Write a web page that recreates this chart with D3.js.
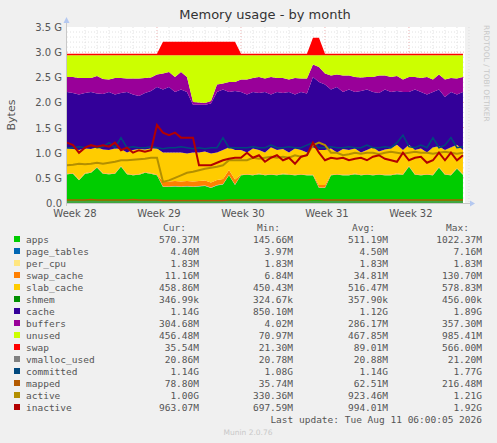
<!DOCTYPE html>
<html>
<head>
<meta charset="utf-8">
<script src="https://cdn.jsdelivr.net/npm/d3@7"></script>
<style>
  body { margin: 0; background: #f0f0f0; }
  svg { display: block; }
</style>
</head>
<body>
<svg id="chart" width="497" height="443"></svg>
<script>
// samples every half day, values in G
const apps = [0.57,0.58,0.45,0.58,0.6,0.70,0.58,0.57,0.58,0.72,0.57,0.55,0.56,0.6,0.58,
  0.55,0.32,0.32,0.33,0.32,0.33,0.32,0.33,0.34,0.30,0.35,0.37,0.55,0.36,
  0.55,0.56,0.55,0.57,0.55,0.56,0.55,0.57,0.56,0.55,0.56,0.55,0.55,0.30,
  0.30,0.55,0.56,0.55,0.55,0.57,0.55,0.56,0.55,0.56,0.55,0.55,0.57,0.56,
  0.72,0.56,0.55,0.56,0.55,0.70,0.56,0.55,0.68,0.56];
const pageTables = [0.004,0.004,0.004,0.004,0.004,0.004,0.004,0.004,0.004,0.004,0.004,0.004,0.004,0.004,0.004,
  0.004,0.004,0.004,0.004,0.004,0.004,0.004,0.004,0.004,0.004,0.004,0.004,0.004,0.004,
  0.004,0.004,0.004,0.004,0.004,0.004,0.004,0.004,0.004,0.004,0.004,0.004,0.004,0.004,
  0.004,0.004,0.004,0.004,0.004,0.004,0.004,0.004,0.004,0.004,0.004,0.004,0.004,0.004,
  0.004,0.004,0.004,0.004,0.004,0.004,0.004,0.004,0.004,0.004];
const perCpu = [0.002,0.002,0.002,0.002,0.002,0.002,0.002,0.002,0.002,0.002,0.002,0.002,0.002,0.002,0.002,
  0.002,0.002,0.002,0.002,0.002,0.002,0.002,0.002,0.002,0.002,0.002,0.002,0.002,0.002,
  0.002,0.002,0.002,0.002,0.002,0.002,0.002,0.002,0.002,0.002,0.002,0.002,0.002,0.002,
  0.002,0.002,0.002,0.002,0.002,0.002,0.002,0.002,0.002,0.002,0.002,0.002,0.002,0.002,
  0.002,0.002,0.002,0.002,0.002,0.002,0.002,0.002,0.002,0.002];
const swapCache = [0.01,0.01,0.01,0.01,0.01,0.01,0.01,0.01,0.01,0.01,0.01,0.01,0.01,0.01,0.01,
  0.01,0.10,0.10,0.10,0.10,0.10,0.10,0.10,0.10,0.10,0.10,0.10,0.10,0.10,
  0.01,0.01,0.01,0.01,0.01,0.01,0.01,0.01,0.01,0.01,0.01,0.01,0.01,0.05,
  0.05,0.01,0.01,0.01,0.01,0.01,0.01,0.01,0.01,0.01,0.01,0.01,0.01,0.01,
  0.01,0.01,0.01,0.01,0.01,0.01,0.01,0.01,0.01,0.01];
const slabCache = [0.50,0.48,0.59,0.49,0.46,0.39,0.47,0.47,0.49,0.34,0.42,0.49,0.50,0.45,0.49,
  0.52,0.58,0.58,0.57,0.58,0.55,0.58,0.57,0.58,0.58,0.55,0.58,0.45,0.59,
  0.49,0.43,0.52,0.47,0.44,0.53,0.49,0.49,0.43,0.52,0.48,0.44,0.54,0.70,
  0.70,0.52,0.43,0.51,0.49,0.50,0.44,0.48,0.54,0.45,0.50,0.52,0.57,0.48,
  0.42,0.48,0.52,0.43,0.54,0.41,0.48,0.54,0.46,0.48];
const shmem = [0.0003,0.0003,0.0003,0.0003,0.0003,0.0003,0.0003,0.0003,0.0003,0.0003,0.0003,0.0003,0.0003,0.0003,0.0003,
  0.0003,0.0003,0.0003,0.0003,0.0003,0.0003,0.0003,0.0003,0.0003,0.0003,0.0003,0.0003,0.0003,0.0003,
  0.0003,0.0003,0.0003,0.0003,0.0003,0.0003,0.0003,0.0003,0.0003,0.0003,0.0003,0.0003,0.0003,0.0003,
  0.0003,0.0003,0.0003,0.0003,0.0003,0.0003,0.0003,0.0003,0.0003,0.0003,0.0003,0.0003,0.0003,0.0003,
  0.0003,0.0003,0.0003,0.0003,0.0003,0.0003,0.0003,0.0003,0.0003,0.0003];
const cache = [1.12,1.11,1.10,1.10,1.13,1.07,1.10,1.15,1.07,1.11,1.20,1.10,1.05,1.12,1.14,
  1.22,1.25,1.30,1.20,1.25,1.22,0.95,0.95,0.93,0.99,1.20,1.20,1.10,1.17,
  1.15,1.15,1.12,1.13,1.20,1.05,1.15,1.11,1.20,1.07,1.15,1.17,1.40,1.35,
  1.30,1.17,1.30,1.13,1.20,1.12,1.22,1.20,1.10,1.16,1.19,1.12,1.07,1.15,
  1.05,1.20,1.12,1.15,1.10,1.13,1.05,1.10,1.00,1.15];
const buffers = [0.30,0.32,0.33,0.30,0.28,0.35,0.30,0.25,0.33,0.30,0.27,0.32,0.35,0.30,0.27,
  0.25,0.32,0.30,0.30,0.35,0.30,0.05,0.04,0.03,0.05,0.15,0.12,0.20,0.18,
  0.25,0.30,0.28,0.32,0.27,0.35,0.28,0.30,0.25,0.33,0.27,0.30,0.25,0.30,
  0.22,0.28,0.25,0.33,0.28,0.30,0.27,0.25,0.30,0.35,0.28,0.30,0.30,0.25,
  0.30,0.25,0.28,0.35,0.25,0.30,0.35,0.28,0.32,0.30];
const unused = [0.43,0.43,0.45,0.45,0.45,0.41,0.47,0.48,0.45,0.45,0.46,0.46,0.46,0.45,0.44,
  0.38,0.36,0.33,0.43,0.33,0.43,0.93,0.94,0.95,0.91,0.58,0.56,0.53,0.53,
  0.48,0.48,0.45,0.43,0.46,0.43,0.45,0.45,0.48,0.45,0.46,0.46,0.18,0.23,
  0.36,0.40,0.38,0.40,0.40,0.43,0.44,0.43,0.43,0.40,0.40,0.43,0.41,0.48,
  0.43,0.43,0.45,0.43,0.48,0.38,0.48,0.45,0.46,0.43];
const swap = [0.03,0.03,0.03,0.03,0.03,0.03,0.03,0.03,0.03,0.03,0.03,0.03,0.03,0.03,0.03,
  0.03,0.27,0.27,0.27,0.27,0.27,0.27,0.27,0.27,0.27,0.27,0.27,0.27,0.27,
  0.03,0.03,0.03,0.03,0.03,0.03,0.03,0.03,0.03,0.03,0.03,0.03,0.35,0.35,
  0.03,0.03,0.03,0.03,0.03,0.03,0.03,0.03,0.03,0.03,0.03,0.03,0.03,0.03,
  0.03,0.03,0.03,0.03,0.03,0.03,0.03,0.03,0.03,0.03];
const vmallocUsed = [0.02,0.02,0.02,0.02,0.02,0.02,0.02,0.02,0.02,0.02,0.02,0.02,0.02,0.02,0.02,
  0.02,0.02,0.02,0.02,0.02,0.02,0.02,0.02,0.02,0.02,0.02,0.02,0.02,0.02,
  0.02,0.02,0.02,0.02,0.02,0.02,0.02,0.02,0.02,0.02,0.02,0.02,0.02,0.02,
  0.02,0.02,0.02,0.02,0.02,0.02,0.02,0.02,0.02,0.02,0.02,0.02,0.02,0.02,
  0.02,0.02,0.02,0.02,0.02,0.02,0.02,0.02,0.02,0.02];
const committed = [1.1,1.1,1.12,1.1,1.15,1.1,1.12,1.2,1.1,1.3,1.1,1.12,1.1,1.1,1.12,
  1.1,1.08,1.1,1.1,1.12,1.1,1.08,1.1,1.08,1.1,1.1,1.3,1.1,1.1,
  1.1,1.1,1.12,1.1,1.1,1.15,1.1,1.1,1.12,1.1,1.1,1.15,1.2,1.1,
  1.1,1.12,1.1,1.1,1.12,1.1,1.1,1.15,1.1,1.1,1.12,1.1,1.2,1.35,
  1.12,1.1,1.15,1.1,1.3,1.1,1.15,1.3,1.1,1.12];
const mapped = [0.06,0.06,0.06,0.06,0.07,0.06,0.06,0.06,0.06,0.06,0.06,0.07,0.06,0.06,0.06,
  0.06,0.05,0.05,0.05,0.05,0.05,0.05,0.05,0.05,0.05,0.05,0.05,0.06,0.06,
  0.06,0.06,0.06,0.06,0.06,0.06,0.06,0.06,0.06,0.06,0.06,0.06,0.07,0.07,
  0.06,0.06,0.06,0.06,0.06,0.06,0.06,0.06,0.06,0.06,0.06,0.06,0.06,0.06,
  0.06,0.06,0.06,0.06,0.06,0.06,0.06,0.06,0.06,0.06];
const active = [0.75,0.76,0.78,0.77,0.78,0.80,0.78,0.80,0.82,0.85,0.85,0.86,0.87,0.88,0.90,
  0.9,0.42,0.45,0.5,0.55,0.6,0.62,0.65,0.68,0.7,0.72,0.75,0.85,0.85,
  0.85,0.85,0.9,0.88,0.9,0.92,0.9,0.92,0.9,0.95,0.92,0.95,1.15,1.2,
  1.15,1.0,1.0,0.95,0.97,1.0,0.98,1.0,1.0,0.97,1.0,1.02,1.0,0.98,
  1.0,1.02,1.0,1.0,0.98,1.0,1.02,1.0,0.98,1.0];
const inactive = [1.2,1.15,1.0,1.1,1.15,1.12,1.15,1.12,1.2,1.05,1.1,1.0,1.05,1.02,1.05,
  1.55,1.4,1.35,1.4,1.3,1.3,1.3,0.75,0.75,0.75,0.8,0.85,0.88,0.9,
  0.9,1.0,0.9,0.95,0.82,0.9,0.95,0.85,0.9,0.78,0.92,0.95,1.2,1.0,
  0.85,0.9,0.88,0.9,0.85,0.88,0.9,0.85,0.92,0.95,0.88,0.85,0.82,1.0,
  0.85,0.9,0.92,0.8,0.85,1.0,0.85,1.0,0.85,0.95];

const weekTicks = [[0.5, "Week 28"], [7.5, "Week 29"], [14.5, "Week 30"], [21.5, "Week 31"], [28.5, "Week 32"]];
const yTicks = [0, 0.5, 1, 1.5, 2, 2.5, 3, 3.5];

const areaSeries = [
  ["apps", apps, "#00cc00"], ["page_tables", pageTables, "#0066b3"], ["per_cpu", perCpu, "#ffe680"],
  ["swap_cache", swapCache, "#ff8000"], ["slab_cache", slabCache, "#ffcc00"], ["shmem", shmem, "#008f00"],
  ["cache", cache, "#330099"], ["buffers", buffers, "#990099"], ["unused", unused, "#ccff00"], ["swap", swap, "#ff0000"]
];
const lineSeries = [
  ["vmalloc_used", vmallocUsed, "#808080", 1], ["committed", committed, "#00487d", 1.5],
  ["mapped", mapped, "#b35a00", 1.5], ["active", active, "#b38f00", 2], ["inactive", inactive, "#b30000", 2]
];
const legendRows = [
  ["apps", "#00cc00", "570.37M", "145.66M", "511.19M", "1022.37M"],
  ["page_tables", "#0066b3", "4.40M", "3.97M", "4.50M", "7.16M"],
  ["per_cpu", "#ffe680", "1.83M", "1.83M", "1.83M", "1.83M"],
  ["swap_cache", "#ff8000", "11.16M", "6.84M", "34.81M", "130.70M"],
  ["slab_cache", "#ffcc00", "458.86M", "450.43M", "516.47M", "578.83M"],
  ["shmem", "#008f00", "346.99k", "324.67k", "357.90k", "456.00k"],
  ["cache", "#330099", "1.14G", "850.10M", "1.12G", "1.89G"],
  ["buffers", "#990099", "304.68M", "4.02M", "286.17M", "357.30M"],
  ["unused", "#ccff00", "456.48M", "70.97M", "467.85M", "985.41M"],
  ["swap", "#ff0000", "35.54M", "21.30M", "89.01M", "566.00M"],
  ["vmalloc_used", "#808080", "20.86M", "20.78M", "20.88M", "21.20M"],
  ["committed", "#00487d", "1.14G", "1.08G", "1.14G", "1.77G"],
  ["mapped", "#b35a00", "78.80M", "35.74M", "62.51M", "216.48M"],
  ["active", "#b38f00", "1.00G", "330.36M", "923.46M", "1.21G"],
  ["inactive", "#b30000", "963.07M", "697.59M", "994.01M", "1.92G"]
];

const svg = d3.select("#chart");
const x = d3.scaleLinear().domain([0, 33.17]).range([67, 465]);
const y = d3.scaleLinear().domain([0, 3.5]).range([203, 27]);
const font = "DejaVu Sans, sans-serif";
const mono = "DejaVu Sans Mono, monospace";

// plot background
svg.append("rect").attr("x", 67).attr("y", 27).attr("width", 398).attr("height", 176).attr("fill", "#fff");

// grid
const grid = svg.append("g");
d3.range(1, 35).forEach(v => {
  grid.append("line").attr("x1", 67).attr("x2", 465).attr("y1", y(v / 10)).attr("y2", y(v / 10))
    .attr("stroke", v % 5 === 0 ? "#e6a0a0" : "#dcdcdc").attr("stroke-dasharray", "1,2").attr("stroke-width", 0.8);
});
d3.range(1, 34).forEach(d => {
  grid.append("line").attr("y1", 27).attr("y2", 203).attr("x1", x(d + 0.5)).attr("x2", x(d + 0.5))
    .attr("stroke", (d % 7 === 0) ? "#e6a0a0" : "#dcdcdc").attr("stroke-dasharray", "1,2").attr("stroke-width", 0.8);
});

// stacked areas
const rows = apps.map((_, i) => {
  const r = { t: i * 0.5 };
  areaSeries.forEach(([name, vals]) => r[name] = vals[i]);
  return r;
});
const stack = d3.stack().keys(areaSeries.map(s => s[0]))(rows);
const area = d3.area().x(d => x(d.data.t)).y0(d => y(d[0])).y1(d => y(d[1]));
svg.append("g").selectAll("path").data(stack).join("path")
  .attr("d", area).attr("fill", (d, i) => areaSeries[i][2]);

// lines
lineSeries.forEach(([name, vals, color, w]) => {
  const line = d3.line().x((d, i) => x(i * 0.5)).y(d => y(d));
  svg.append("path").datum(vals).attr("d", line).attr("fill", "none").attr("stroke", color).attr("stroke-width", w);
});

// axes
svg.append("line").attr("x1", 67).attr("x2", 470).attr("y1", 203.5).attr("y2", 203.5).attr("stroke", "#c8c8c8");
svg.append("line").attr("x1", 66.5).attr("x2", 66.5).attr("y1", 22).attr("y2", 206).attr("stroke", "#c8c8c8");
svg.append("path").attr("d", "M470,200.5 L475,203.5 L470,206.5 Z").attr("fill", "#b4c8f0");
svg.append("path").attr("d", "M63.5,23 L66.5,17 L69.5,23 Z").attr("fill", "#b4c8f0");

svg.append("g").selectAll("text").data(yTicks).join("text")
  .attr("x", 62).attr("y", d => y(d) + 4).attr("text-anchor", "end")
  .attr("font-family", font).attr("font-size", 10).attr("fill", "#555")
  .text(d => d === 0 ? "0.0" : d3.format(".1f")(d) + " G");
svg.append("g").selectAll("text").data(weekTicks).join("text")
  .attr("x", d => x(d[0]) + 2).attr("y", 217).attr("text-anchor", "middle")
  .attr("font-family", font).attr("font-size", 10).attr("fill", "#555").text(d => d[1]);

svg.append("text").attr("x", 265).attr("y", 19).attr("text-anchor", "middle")
  .attr("font-family", font).attr("font-size", 13).attr("fill", "#333").text("Memory usage - by month");
svg.append("text").attr("transform", "translate(15,115) rotate(-90)").attr("text-anchor", "middle")
  .attr("font-family", font).attr("font-size", 11).attr("fill", "#555").text("Bytes");
svg.append("text").attr("transform", "translate(484,25) rotate(90)")
  .attr("font-family", font).attr("font-size", 7.5).attr("fill", "#c8c8c8").text("RRDTOOL / TOBI OETIKER");

// legend
const lg = svg.append("g").attr("font-family", mono).attr("font-size", 9.5).attr("fill", "#555");
const cols = [199, 293, 388, 482];
["Cur:", "Min:", "Avg:", "Max:"].forEach((h, k) =>
  lg.append("text").attr("x", cols[k] - 13).attr("y", 231).attr("text-anchor", "end").text(h));
legendRows.forEach((r, i) => {
  const yy = 243 + i * 12;
  lg.append("rect").attr("x", 14).attr("y", yy - 7).attr("width", 6).attr("height", 6).attr("fill", r[1]);
  lg.append("text").attr("x", 26).attr("y", yy).text(r[0]);
  r.slice(2).forEach((v, k) => lg.append("text").attr("x", cols[k]).attr("y", yy).attr("text-anchor", "end").text(v));
});
lg.append("text").attr("x", 482).attr("y", 423).attr("text-anchor", "end").text("Last update: Tue Aug 11 06:00:05 2026");
svg.append("text").attr("x", 248).attr("y", 435).attr("text-anchor", "middle")
  .attr("font-family", font).attr("font-size", 7.5).attr("fill", "#c8c8c8").text("Munin 2.0.76");
</script>
</body>
</html>
